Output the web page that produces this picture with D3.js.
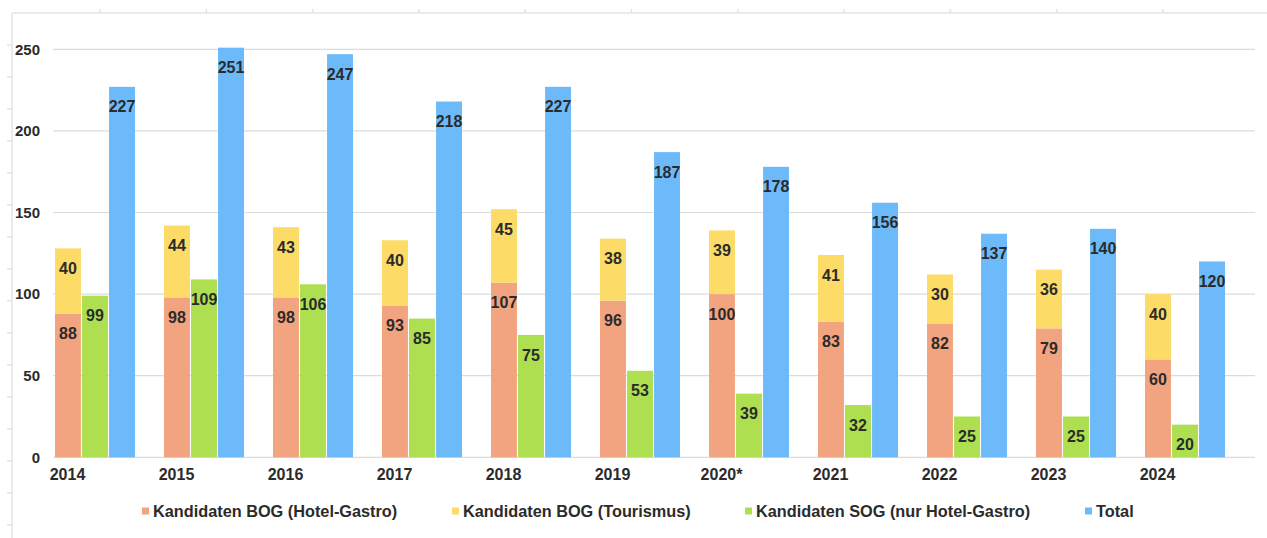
<!DOCTYPE html>
<html>
<head>
<meta charset="utf-8">
<script src="https://cdn.jsdelivr.net/npm/d3@7"></script>
<style>
  body { margin: 0; background: #fff; }
  svg { display: block; font-family: 'Liberation Sans', Arial, sans-serif; }
  .tick text { fill: #2b2b2b; font-weight: bold; }
</style>
</head>
<body>
<svg id="chart" width="1267" height="538"></svg>
<script>
// data
const years = ['2014', '2015', '2016', '2017', '2018', '2019', '2020*', '2021', '2022', '2023', '2024'];
const bogHotel = [88, 98, 98, 93, 107, 96, 100, 83, 82, 79, 60];
const bogTourism = [40, 44, 43, 40, 45, 38, 39, 41, 30, 36, 40];
const sogHotel = [99, 109, 106, 85, 75, 53, 39, 32, 25, 25, 20];
const total = [227, 251, 247, 218, 227, 187, 178, 156, 137, 140, 120];
const yTicks = [0, 50, 100, 150, 200, 250];
const seriesNames = ['Kandidaten BOG (Hotel-Gastro)', 'Kandidaten BOG (Tourismus)', 'Kandidaten SOG (nur Hotel-Gastro)', 'Total'];
const colors = ['#f2a37f', '#fddb67', '#addf51', '#6cbaf9'];

const svg = d3.select('#chart');
const W = 1267, H = 538;

// faint page frame with ruler marks
const frame = svg.append('g').attr('stroke', '#e4e4e4').attr('stroke-width', 1.5);
frame.append('line').attr('x1', 12).attr('x2', 12).attr('y1', 13).attr('y2', H);
frame.append('line').attr('x1', 12).attr('x2', W).attr('y1', 13).attr('y2', 13);
d3.range(45, H, 32).forEach(yy => {
  frame.append('line').attr('x1', 7).attr('x2', 12).attr('y1', yy).attr('y2', yy);
});
d3.range(0, 11).forEach(k => {
  let xx = 100 + k * 106.3;
  frame.append('line').attr('x1', xx).attr('x2', xx).attr('y1', 9).attr('y2', 13);
});

const y = d3.scaleLinear().domain([0, 250]).range([457.3, 49.3]);

const x = d3.scaleBand()
  .domain(years)
  .range([40.5, 1239.5])
  .paddingInner(0.266)
  .paddingOuter(0.133);

const x1 = d3.scaleBand()
  .domain([0, 1, 2])
  .range([0, x.bandwidth()])
  .paddingInner(0.04);

// gridlines
svg.append('g').selectAll('line')
  .data(yTicks)
  .join('line')
  .attr('x1', 53).attr('x2', 1255)
  .attr('y1', d => y(d)).attr('y2', d => y(d))
  .attr('stroke', '#dcdcdc').attr('stroke-width', 1.2);

// y axis labels
const yAxis = svg.append('g')
  .attr('transform', 'translate(40,0)')
  .call(d3.axisLeft(y).tickValues(yTicks).tickSize(0).tickPadding(0));
yAxis.select('.domain').remove();
yAxis.selectAll('text').style('font-size', '15px');

// x axis labels
const xAxis = svg.append('g')
  .attr('transform', 'translate(0,' + 468.5 + ')')
  .call(d3.axisBottom(x).tickSize(0).tickPadding(0));
xAxis.select('.domain').remove();
xAxis.selectAll('text')
  .attr('x', -27.5)
  .style('font-size', '16px');

// one row per year
const rows = years.map((yr, i) => ({
  year: yr,
  hotel: bogHotel[i],
  tourism: bogTourism[i],
  sog: sogHotel[i],
  total: total[i]
}));

const groups = svg.append('g').selectAll('g')
  .data(rows)
  .join('g')
  .attr('transform', d => 'translate(' + x(d.year) + ',0)');

// each bar: slot, base, value, colour index
function barsFor (d) {
  return [
    { slot: 0, base: 0, value: d.hotel, c: 0 },
    { slot: 0, base: d.hotel, value: d.tourism, c: 1 },
    { slot: 1, base: 0, value: d.sog, c: 2 },
    { slot: 2, base: 0, value: d.total, c: 3 }
  ];
}

groups.selectAll('rect')
  .data(barsFor)
  .join('rect')
  .attr('x', d => x1(d.slot))
  .attr('width', x1.bandwidth())
  .attr('y', d => y(d.base + d.value))
  .attr('height', d => y(d.base) - y(d.base + d.value))
  .attr('fill', d => colors[d.c]);

groups.selectAll('text')
  .data(barsFor)
  .join('text')
  .attr('x', d => x1(d.slot) + x1.bandwidth() / 2)
  .attr('y', d => y(d.base + d.value) + 20)
  .attr('dy', '0.35em')
  .attr('text-anchor', 'middle')
  .attr('fill', '#2b2b2b')
  .style('font-size', '16px')
  .style('font-weight', 'bold')
  .text(d => d.value);

// legend
const legendX = [142, 452, 745, 1085];
const legend = svg.append('g').selectAll('g')
  .data(seriesNames)
  .join('g')
  .attr('transform', (d, i) => 'translate(' + legendX[i] + ',511)');
legend.append('rect')
  .attr('x', 0).attr('y', -3.5)
  .attr('width', 7).attr('height', 7)
  .attr('fill', (d, i) => colors[i]);
legend.append('text')
  .attr('x', 11)
  .attr('dy', '0.35em')
  .attr('fill', '#2b2b2b')
  .style('font-size', '16.3px')
  .style('font-weight', 'bold')
  .text(d => d);
</script>
</body>
</html>
